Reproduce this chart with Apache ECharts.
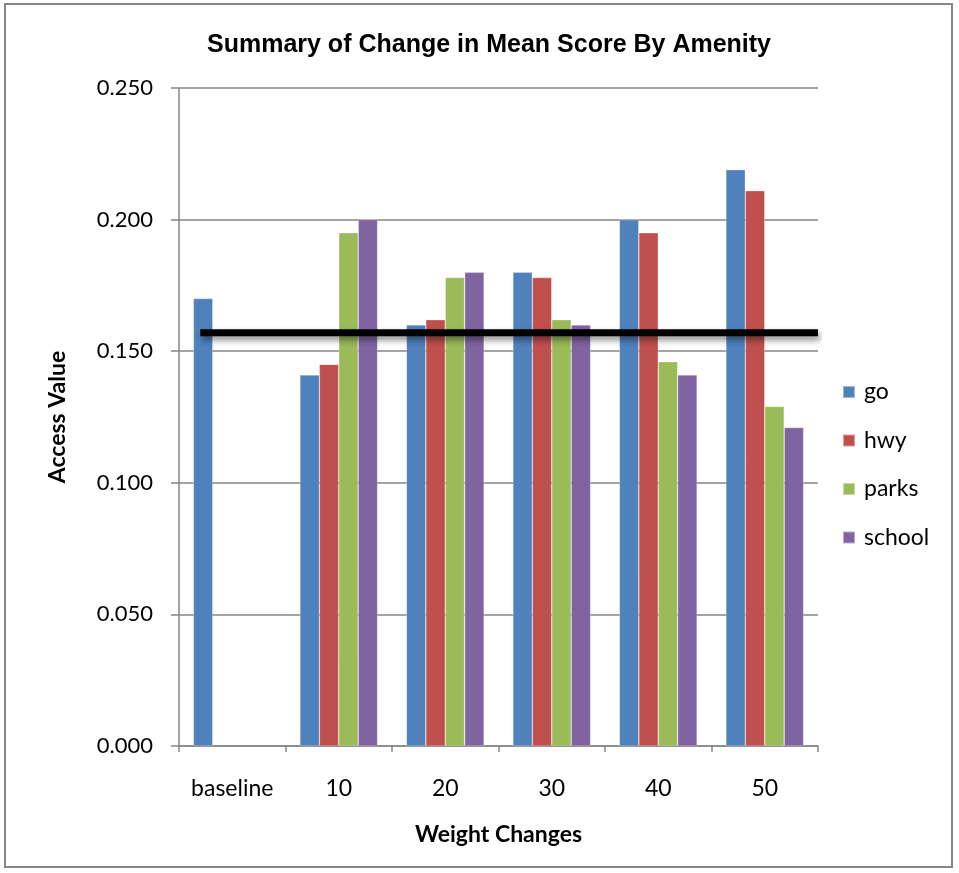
<!DOCTYPE html>
<html><head><meta charset="utf-8">
<script src="https://cdn.jsdelivr.net/npm/echarts@6/dist/echarts.min.js"></script>
<style>
html,body{margin:0;padding:0;background:#fff;}
#frame{position:absolute;left:4px;top:3px;width:949px;height:865px;border:2px solid #868686;box-sizing:border-box;}
#c{position:absolute;left:0;top:0;width:959px;height:873px;}
</style></head>
<body>
<div id="frame"></div>
<div id="c"></div>
<script>
const categories = ['baseline','10','20','30','40','50'];
const seriesNames = ['go','hwy','parks','school'];
const goValues = [0.170, 0.141, 0.160, 0.180, 0.200, 0.219];
const hwyValues = [null, 0.145, 0.162, 0.178, 0.195, 0.211];
const parksValues = [null, 0.195, 0.178, 0.162, 0.146, 0.129];
const schoolValues = [null, 0.200, 0.180, 0.160, 0.141, 0.121];
const refLineValue = 0.157;
const refLineStart = 0.2;   // in category units
const refLineEnd = 6;

const colors = ['#4F81BD','#C0504D','#9BBB59','#8064A2'];
const values = [goValues, hwyValues, parksValues, schoolValues];
const chart = echarts.init(document.getElementById('c'));
const grid = {left:179, right:141, top:88, bottom:127};
const barSeries = seriesNames.map((n,i)=>({
  name:n, type:'bar', data:values[i], barGap:'0%', barCategoryGap:'27%',
  itemStyle:{color:colors[i], borderColor:'rgba(255,255,255,0.45)', borderWidth:0.6},
  xAxisIndex:0, yAxisIndex:0
}));
barSeries.push({
  name:'ref', type:'line', xAxisIndex:1, yAxisIndex:0,
  data:[[refLineStart, refLineValue],[refLineEnd, refLineValue]],
  symbol:'none', silent:true,
  lineStyle:{color:'#000', width:7, shadowColor:'rgba(0,0,0,0.45)', shadowBlur:6, shadowOffsetX:2, shadowOffsetY:4, cap:'butt'},
  z:10
});
chart.setOption({
  animation:false,
  backgroundColor:'transparent',
  title:{text:'Summary of Change in Mean Score By Amenity', left:484, top:28, textAlign:'center',
    textStyle:{fontFamily:'Liberation Sans', fontWeight:'bold', fontSize:25, color:'#000'}},
  legend:{data:seriesNames, orient:'vertical', left:842, top:380, padding:0, itemWidth:12, itemHeight:12, itemGap:24.5,
    icon:'rect', textStyle:{fontFamily:'Lato', fontSize:23, lineHeight:24, color:'#000', padding:[0,0,0,4]}},
  grid:grid,
  xAxis:[{
    type:'category', data:categories, name:'Weight Changes', nameLocation:'middle', nameGap:77,
    nameTextStyle:{fontFamily:'Lato', fontWeight:'bold', fontSize:23, color:'#000'},
    axisLine:{lineStyle:{color:'#868686', width:1.5}},
    axisTick:{show:true, interval:0, length:6, lineStyle:{color:'#868686', width:1.5}},
    axisLabel:{interval:0, fontFamily:'Lato', fontSize:23, color:'#000', margin:31}
  },{
    type:'value', min:0, max:6, show:false
  }],
  yAxis:{
    type:'value', min:0, max:0.25, interval:0.05,
    name:'Access Value', nameLocation:'middle', nameGap:110, nameRotate:90,
    nameTextStyle:{fontFamily:'Lato', fontWeight:'bold', fontSize:23, color:'#000'},
    axisLine:{show:true, lineStyle:{color:'#868686', width:1.5}},
    axisTick:{show:true, length:8, lineStyle:{color:'#868686', width:1.5}},
    splitLine:{lineStyle:{color:'#868686', width:1.5}},
    axisLabel:{fontFamily:'Lato', fontSize:22, color:'#000', margin:26,
      formatter:v=>v.toFixed(3)}
  },
  series:barSeries
});
</script>
</body></html>
